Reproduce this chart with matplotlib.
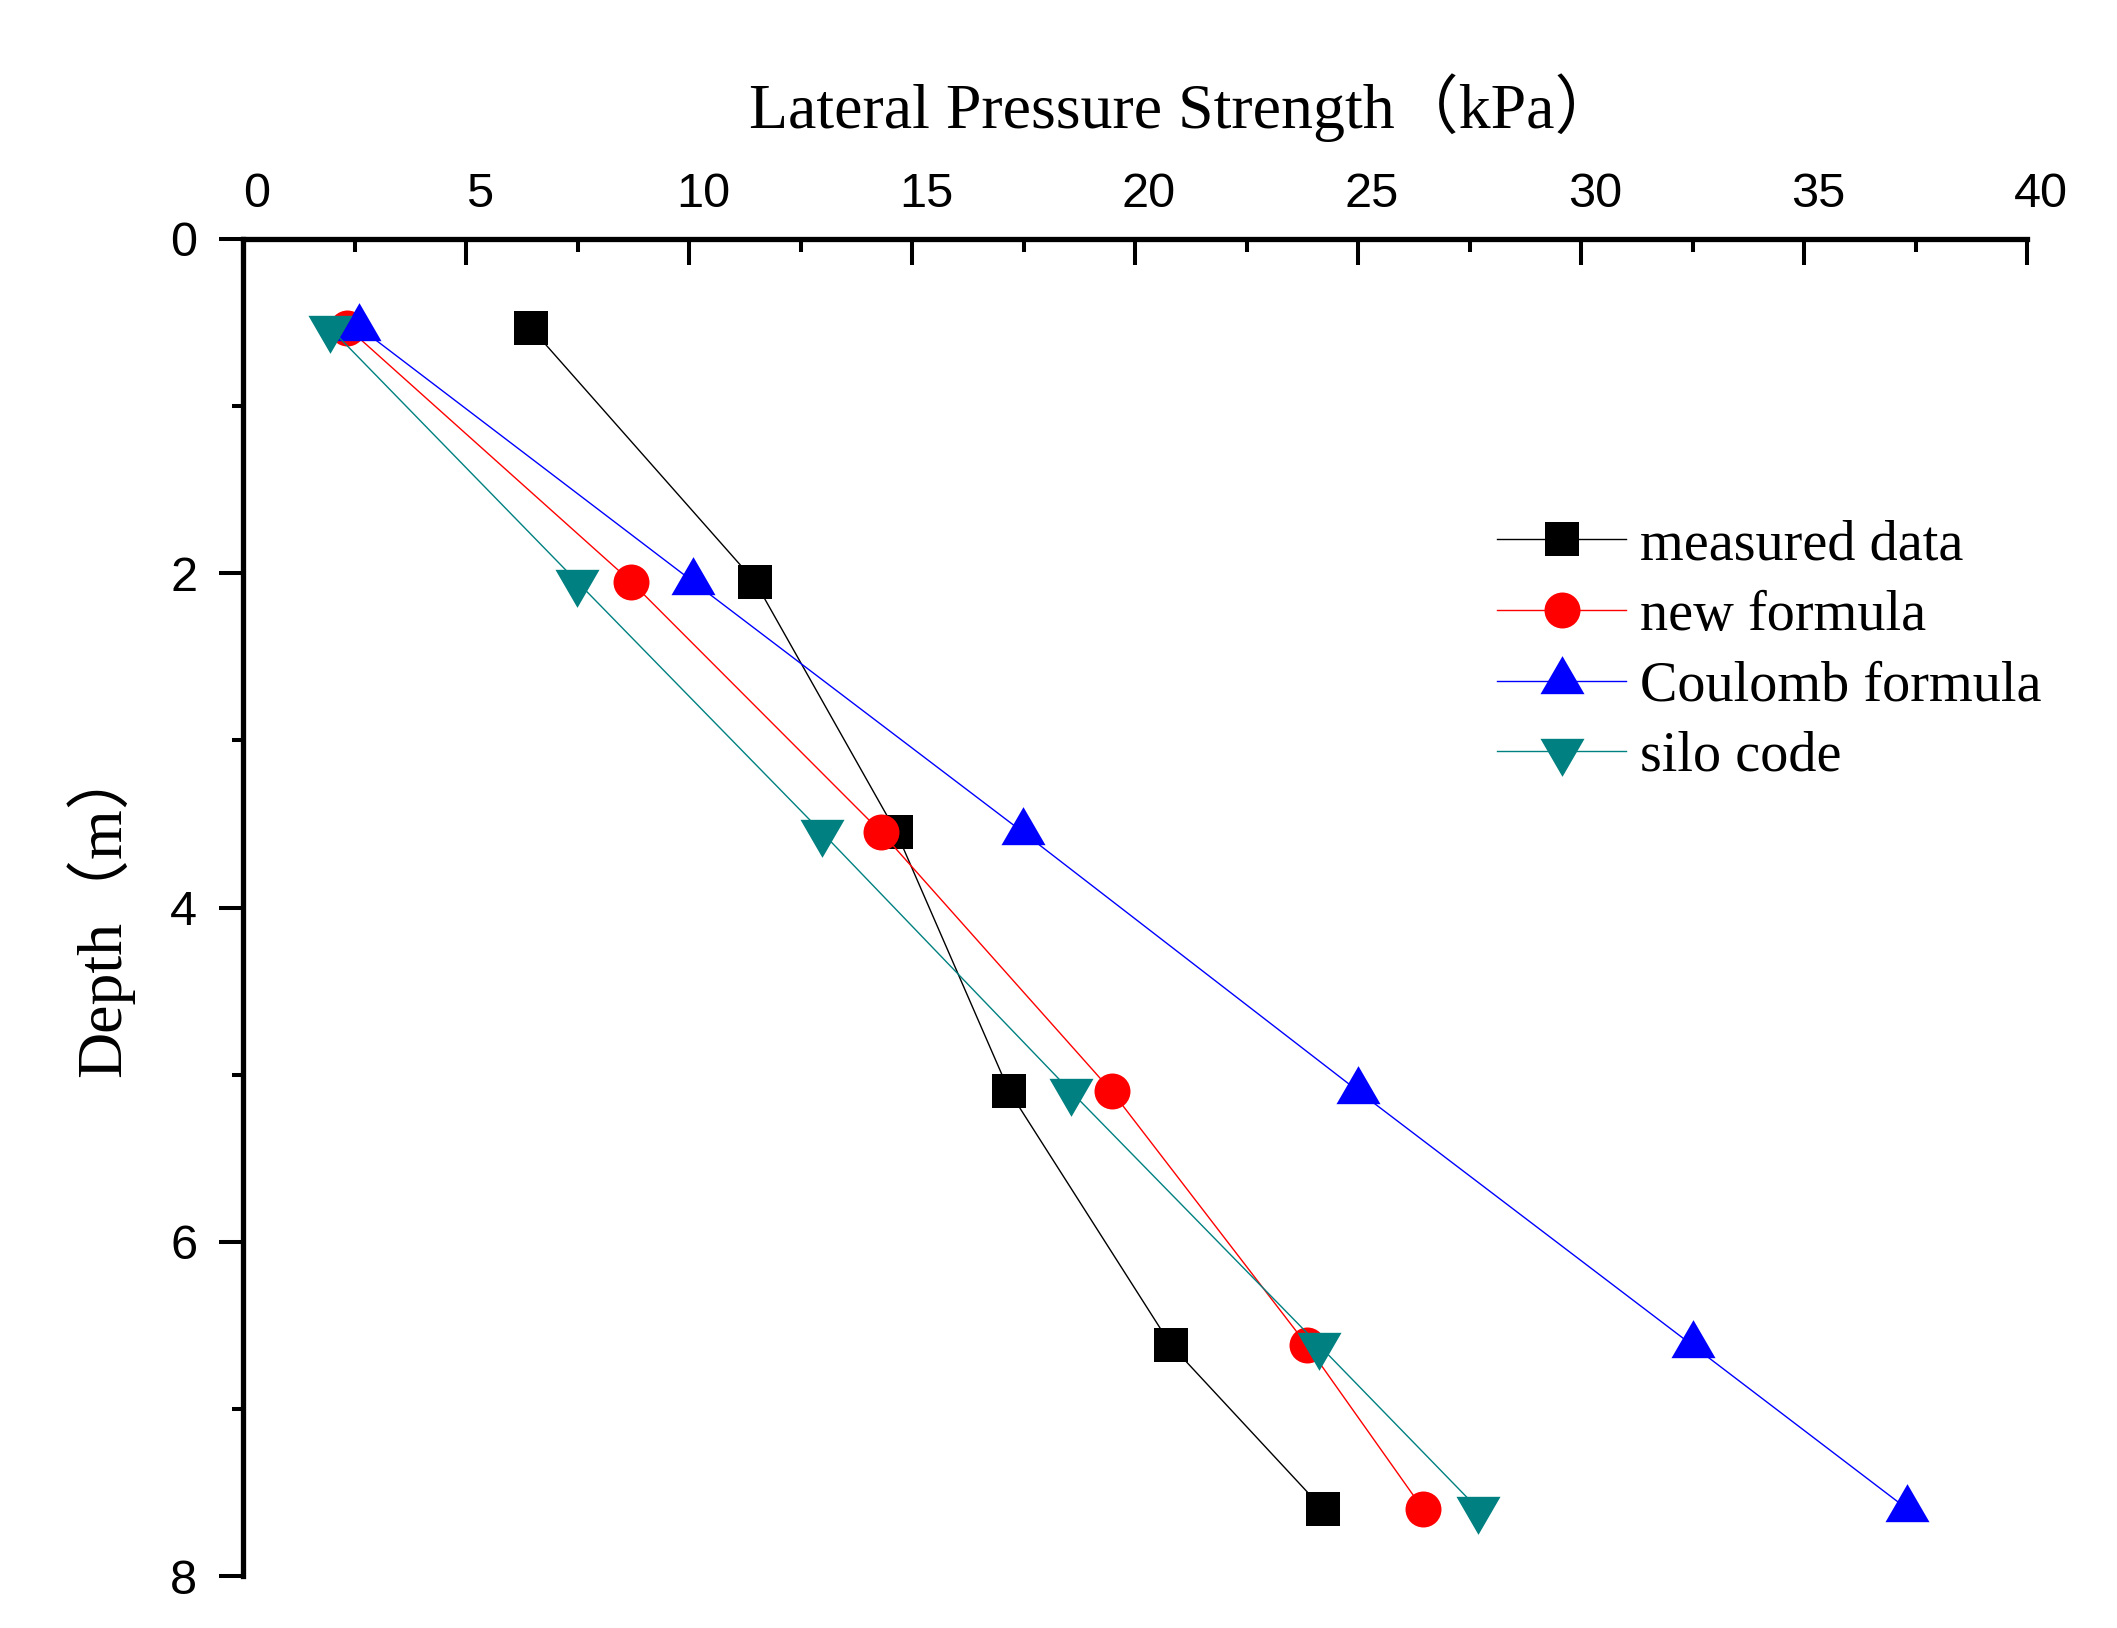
import matplotlib
matplotlib.use("Agg")
import matplotlib.pyplot as plt
import matplotlib.transforms as mtransforms
from matplotlib.path import Path
from matplotlib.ticker import MultipleLocator

# depth of the measuring points (m)
depth = [0.53, 2.05, 3.55, 5.10, 6.62, 7.60]

# lateral pressure strength (kPa)
measured = [6.45, 11.48, 14.65, 17.18, 20.81, 24.22]
new_formula = [2.34, 8.70, 14.31, 19.48, 23.86, 26.46]
coulomb = [2.61, 10.09, 17.49, 25.01, 32.50, 37.32]
silo_code = [1.94, 7.49, 12.98, 18.56, 24.13, 27.70]

names = ["measured data", "new formula", "Coulomb formula", "silo code"]
colors = ["#000000", "#FF0000", "#0000FF", "#008080"]

# triangles centred on their centroid, like Origin does
tri_up = Path([(0, 25.33), (-22, -12.67), (22, -12.67), (0, 25.33)], closed=True)
tri_dn = Path([(0, -25.33), (-22, 12.67), (22, 12.67), (0, -25.33)], closed=True)
markers = ["s", "o", tri_up, tri_dn]
msizes = [23.8, 25.9, 36.5, 36.5]

serif = ["Liberation Serif", "Noto Sans CJK SC"]

fig = plt.figure(figsize=(21.17, 16.28), dpi=100)
ax = fig.add_axes([243 / 2117, 52 / 1628, 1784 / 2117, 1337 / 1628])

for xs, name, c, m, ms in zip([measured, new_formula, coulomb, silo_code],
                              names, colors, markers, msizes):
    ax.plot(xs, depth, color=c, lw=1.0, marker=m, markersize=ms,
            markeredgewidth=0, markerfacecolor=c, label=name)

ax.set_xlim(0, 40)
ax.set_ylim(8, 0)

ax.xaxis.tick_top()
ax.xaxis.set_major_locator(MultipleLocator(5))
ax.xaxis.set_minor_locator(MultipleLocator(2.5))
ax.yaxis.set_major_locator(MultipleLocator(2))
ax.yaxis.set_minor_locator(MultipleLocator(1))

ax.spines["right"].set_visible(False)
ax.spines["bottom"].set_visible(False)
ax.spines["top"].set_linewidth(3.8)
ax.spines["left"].set_linewidth(3.8)

ax.tick_params(axis="x", which="major", direction="in", length=18.7, width=2.9,
               pad=16, labelsize=35, top=True, bottom=False)
ax.tick_params(axis="x", which="minor", direction="in", length=9.4, width=2.9,
               top=True, bottom=False)
ax.tick_params(axis="y", which="major", direction="out", length=17, width=2.9,
               pad=16, labelsize=35)
ax.tick_params(axis="y", which="minor", direction="out", length=8, width=2.9)

for lab in ax.get_xticklabels() + ax.get_yticklabels():
    lab.set_fontfamily("Liberation Sans")

# Origin places the top labels a little right of the ticks
shift = mtransforms.ScaledTranslation(0.14, 0, fig.dpi_scale_trans)
for lab in ax.get_xticklabels():
    lab.set_transform(lab.get_transform() + shift)

fig.text(1184 / 2117, 1 - 128 / 1628, "Lateral Pressure Strength（kPa）",
         family=serif, fontsize=46, ha="center", va="baseline")
fig.text(100 / 2117, 1 - 910 / 1628, "Depth（m）", family=serif, fontsize=46,
         rotation=90, ha="center", va="center")

leg = ax.legend(loc="center left", bbox_to_anchor=(1497 / 2117, 1 - 651 / 1628),
                bbox_transform=fig.transFigure, frameon=False, numpoints=1,
                borderpad=0, borderaxespad=0, handlelength=2.3, handletextpad=0.25,
                labelspacing=0.33, prop={"family": serif, "size": 40.5})

fig.savefig("out.png", dpi=100)
